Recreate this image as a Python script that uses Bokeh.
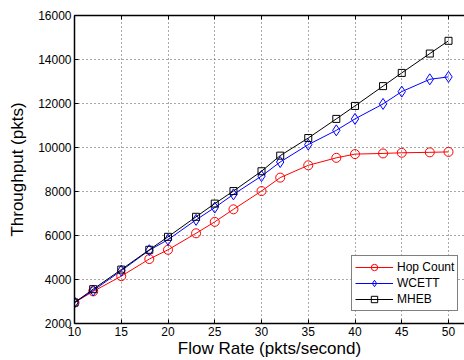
from bokeh.plotting import figure
from bokeh.models import Range1d, LinearAxis, FixedTicker, Legend, LegendItem, CustomJSTickFormatter
from bokeh.embed import file_html
from bokeh.resources import INLINE

flow_rate = [10, 12, 15, 18, 20, 23, 25, 27, 30, 32, 35, 38, 40, 43, 45, 48, 50]
hop_count = [2950, 3460, 4150, 4930, 5350, 6100, 6620, 7190, 8020, 8630, 9190, 9530, 9700, 9730, 9760, 9780, 9800]
wcett = [2960, 3500, 4400, 5330, 5810, 6710, 7270, 7870, 8700, 9340, 10130, 10780, 11300, 11980, 12540, 13100, 13210]
mheb = [2950, 3560, 4450, 5350, 5940, 6850, 7450, 8020, 8920, 9630, 10430, 11300, 11890, 12790, 13390, 14270, 14850]
x_ticks = [10, 15, 20, 25, 30, 35, 40, 45, 50]
y_ticks = [2000, 4000, 6000, 8000, 10000, 12000, 14000, 16000]

FONT = "Liberation Sans"

p = figure(width=464, height=360, output_backend="svg", toolbar_location=None,
           x_range=Range1d(10, 51.71), y_range=Range1d(2000, 16000),
           min_border_left=74, min_border_right=0, min_border_top=15, min_border_bottom=35)
p.outline_line_color = None
p.background_fill_color = "white"
p.border_fill_color = "white"

for ax in (p.xaxis[0], p.yaxis[0]):
    ax.major_tick_in = 4
    ax.major_tick_out = 0
    ax.minor_tick_in = 0
    ax.minor_tick_out = 0
    ax.axis_line_color = "black"
    ax.axis_line_width = 1.5
    ax.major_label_text_font = FONT
    ax.major_label_text_font_size = "12px"
    ax.major_label_text_color = "black"
    ax.axis_label_text_font = FONT
    ax.axis_label_text_font_size = "17px"
    ax.axis_label_text_font_style = "normal"
    ax.axis_label_text_color = "black"

p.xaxis.ticker = FixedTicker(ticks=x_ticks)
p.yaxis.ticker = FixedTicker(ticks=y_ticks)
p.xaxis.axis_label = "Flow Rate (pkts/second)"
p.yaxis.axis_label = "Throughput (pkts)"
p.xaxis.major_label_standoff = 3
p.xaxis.axis_label_standoff = 0
p.yaxis.major_label_standoff = 3
p.yaxis.axis_label_standoff = 8

top = LinearAxis(ticker=FixedTicker(ticks=x_ticks),
                 formatter=CustomJSTickFormatter(code="return ''"),
                 major_tick_in=4, major_tick_out=0, minor_tick_in=0, minor_tick_out=0,
                 axis_line_color="black", axis_line_width=1.5,
                 major_label_text_font_size="1px", major_label_standoff=0)
p.add_layout(top, "above")

p.xgrid.ticker = FixedTicker(ticks=x_ticks)
p.ygrid.ticker = FixedTicker(ticks=y_ticks)
for g in (p.xgrid[0], p.ygrid[0]):
    g.grid_line_color = "#555555"
    g.grid_line_dash = "1 3"
    g.grid_line_width = 1

l1 = p.line(flow_rate, hop_count, line_color="#ff0000", line_width=1)
s1 = p.scatter(flow_rate, hop_count, marker="circle", size=9, line_color="#ff0000", fill_color=None, line_width=1)
l2 = p.line(flow_rate, wcett, line_color="#0000ff", line_width=1)
s2 = p.scatter(flow_rate, wcett, marker="diamond", size=11, line_color="#0000ff", fill_color=None, line_width=1)
l3 = p.line(flow_rate, mheb, line_color="black", line_width=1)
s3 = p.scatter(flow_rate, mheb, marker="square", size=7, line_color="black", fill_color=None, line_width=1)

legend = Legend(items=[
    LegendItem(label="Hop Count", renderers=[l1, s1]),
    LegendItem(label="WCETT", renderers=[l2, s2]),
    LegendItem(label="MHEB", renderers=[l3, s3]),
], location=(277, 12))
legend.label_text_font = FONT
legend.label_text_font_size = "12px"
legend.label_text_color = "black"
legend.glyph_width = 38
legend.glyph_height = 16
legend.spacing = 0
legend.padding = 3
legend.margin = 0
legend.label_standoff = 4
legend.label_height = 16
legend.border_line_color = "black"
legend.border_line_width = 1.5
legend.background_fill_alpha = 1
p.add_layout(legend, "center")

open("out.html", "w").write(file_html(p, INLINE))
